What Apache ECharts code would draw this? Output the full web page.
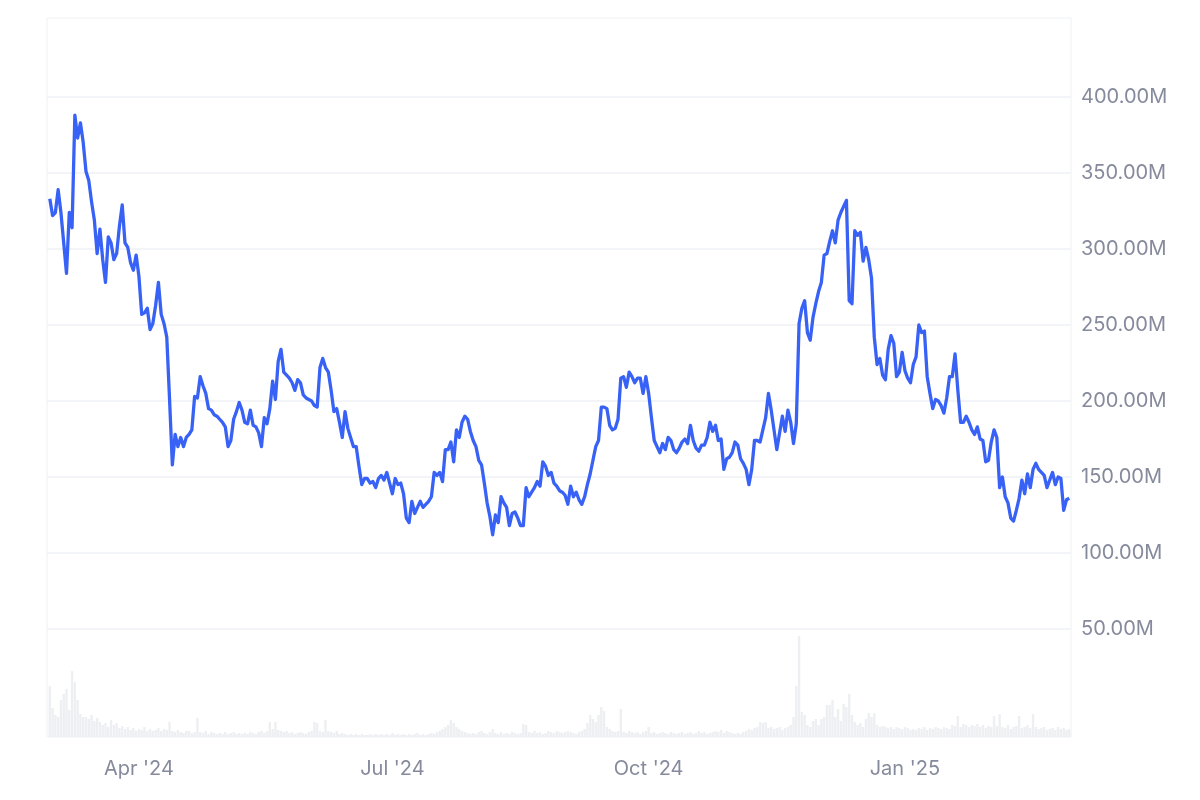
<!DOCTYPE html>
<html>
<head>
<meta charset="utf-8">
<title>price chart</title>
<script src="https://cdn.jsdelivr.net/npm/echarts@6/dist/echarts.min.js"></script>
<style>
    html, body { margin: 0; padding: 0; background: #fff; }
    #chart { width: 1200px; height: 800px; }
</style>
</head>
<body>
<div id="chart"></div>
<script>
/*
* 价格走势 + 成交量
* */
var DAY = 86400000
var firstDay = Date.UTC(2024, 1, 29)

// daily price, millions
var priceM = [
    333,322,324,339,324,304,284,324,314,388,373,383,370,351,345,331,319,297,313,293,278,308,304,293,297,315,329,304,301,291,286,296,282,257,258,261,247,251,263,278,257,251,242,201,158,
    178,170,176,170,176,178,181,203,202,216,210,205,195,194,191,190,188,186,183,170,174,188,193,199,194,186,185,194,184,183,179,170,189,185,195,213,201,226,234,219,217,215,212,207,214,
    212,204,202,201,200,197,196,222,228,222,219,207,193,195,186,176,193,182,176,170,170,157,145,149,149,146,147,143,149,151,148,153,146,139,149,145,146,139,123,120,134,126,130,134,130,
    132,134,137,153,151,153,147,168,168,173,160,181,176,186,190,188,180,174,170,161,158,146,133,124,112,125,120,137,133,130,118,126,127,123,118,118,143,137,140,143,147,144,160,157,151,
    153,146,144,141,140,138,132,144,137,140,135,132,137,145,152,161,170,174,196,196,195,184,181,182,188,215,216,209,219,216,212,215,215,205,216,205,189,174,170,166,172,168,176,174,168,
    166,169,173,175,172,184,174,169,167,171,171,176,186,180,184,174,175,155,162,163,166,173,171,162,159,155,145,155,174,174,173,181,189,205,194,181,168,179,190,180,194,186,172,185,
    251,261,266,245,240,255,264,272,278,296,297,305,312,304,319,324,328,332,266,264,312,309,311,292,301,293,281,242,224,228,217,214,234,243,238,216,219,232,220,215,212,224,229,250,245,246,
    216,205,195,201,200,197,192,202,216,216,231,207,186,186,190,186,181,178,183,175,174,160,161,173,181,176,143,150,137,133,123,121,128,136,148,139,152,143,155,159,155,153,151,143,148,153,145,150,149,128,135,136
]

// daily volume (relative)
var volume = [
    51,29,22,20,37,43,48,27,66,55, 37,23,20,20,18,22,16,19,15,12, 14,10,17,12,14,9,11,8,10,7,
    9,6,8,7,10,6,8,6,7,9, 6,8,7,15,6,5,7,5,4,6, 6,4,5,19,5,4,6,3,5,4,
    3,4,3,5,3,4,5,3,4,3, 4,3,5,4,3,5,6,4,6,15, 8,15,7,6,5,6,4,5,3,4,
    5,4,3,5,6,15,14,6,5,17, 6,5,4,6,3,4,3,2,3,2, 3,2,3,2,2,3,2,3,2,3,
    2,3,2,4,2,3,2,3,2,3, 2,3,4,2,3,2,3,4,3,5, 6,8,10,12,17,14,10,8,6,5,
    4,3,4,3,5,6,4,3,5,8, 4,3,5,3,4,3,5,4,3,4, 13,12,5,4,6,4,5,3,4,6,
    5,4,6,5,4,5,6,5,4,3, 5,6,8,14,22,18,15,22,30,26, 10,8,6,5,6,28,5,4,6,5,
    4,5,3,5,6,10,4,5,3,4, 5,4,3,5,4,3,4,5,3,4, 5,3,4,6,4,5,3,4,5,6,
    5,7,4,6,5,4,3,4,3,5, 6,8,7,9,10,15,14,15,9,10, 8,9,10,7,9,10,12,20,51,101,
    25,22,12,10,16,18,12,18,20,32, 32,37,20,28,16,33,30,43,22,15, 12,14,10,18,24,20,24,12,10,11,
    10,9,10,8,10,9,8,10,9,7, 8,7,9,8,10,7,9,8,10,9, 8,10,9,8,12,11,21,10,13,12,
    10,12,11,13,10,12,9,11,10,21, 11,23,10,9,12,8,10,11,21,9, 10,12,9,23,10,8,9,10,7,8,
    9,7,10,8,9,7,8
]

var priceTicks = [50, 100, 150, 200, 250, 300, 350, 400]
var monthTicks = [Date.UTC(2024, 3, 1), Date.UTC(2024, 6, 1), Date.UTC(2024, 9, 1), Date.UTC(2025, 0, 1)]
var monthNames = ['Jan', 'Feb', 'Mar', 'Apr', 'May', 'Jun', 'Jul', 'Aug', 'Sep', 'Oct', 'Nov', 'Dec']

var priceData = priceM.map(function (v, i) { return [firstDay + i * DAY, v * 1e6] })
var volumeData = volume.map(function (v, i) { return [firstDay + i * DAY, v] })
var priceTickValues = priceTicks.map(function (v) { return v * 1e6 })

var labelColor = '#858a9c'
var lineColor = '#eff1f4'

var option = {
    backgroundColor: '#fff',
    animation: false,
    textStyle: { fontFamily: 'Inter, Roboto, Arial, sans-serif' },
    grid: {
        left: 47,
        right: 129,
        top: 18,
        bottom: 63,
        show: true,
        borderColor: lineColor,
        borderWidth: 1
    },
    xAxis: {
        type: 'value',
        min: Date.UTC(2024, 1, 28),
        max: Date.UTC(2025, 2, 1, 15),
        axisLine: { show: false },
        axisTick: { show: false, customValues: monthTicks },
        splitLine: { show: false },
        axisLabel: {
            customValues: monthTicks,
            color: labelColor,
            fontSize: 20,
            margin: 22,
            formatter: function (v) {
                var d = new Date(v)
                return monthNames[d.getUTCMonth()] + " '" + String(d.getUTCFullYear()).slice(2)
            }
        }
    },
    yAxis: [{
        type: 'value',
        position: 'right',
        min: -21.05e6,
        max: 451.97e6,
        axisLine: { show: false },
        axisTick: { show: false, customValues: priceTickValues },
        splitLine: { show: true, lineStyle: { color: lineColor, width: 1.5 } },
        axisLabel: {
            customValues: priceTickValues,
            color: labelColor,
            fontSize: 20,
            margin: 10,
            formatter: function (v) { return (v / 1e6).toFixed(2) + 'M' }
        }
    }, {
        type: 'value',
        min: 0,
        max: 719,
        show: false,
        splitLine: { show: false }
    }],
    series: [{
        name: 'volume',
        type: 'bar',
        yAxisIndex: 1,
        barWidth: 2.4,
        itemStyle: { color: '#edeff2' },
        data: volumeData
    }, {
        name: 'price',
        type: 'line',
        yAxisIndex: 0,
        showSymbol: false,
        lineStyle: { color: '#3862f6', width: 3.3, join: 'round' },
        data: priceData
    }]
}

var chart = echarts.init(document.getElementById('chart'))
chart.setOption(option)
</script>
</body>
</html>
